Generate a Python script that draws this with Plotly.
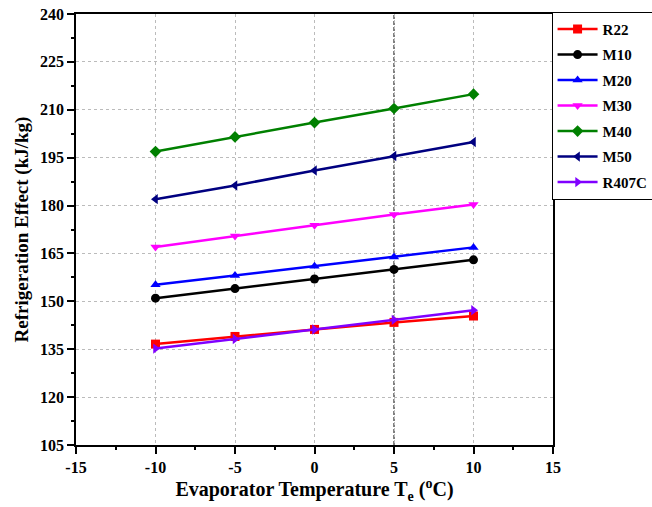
import plotly.graph_objects as go

temps = [-10, -5, 0, 5, 10]
names = ["R22", "M10", "M20", "M30", "M40", "M50", "R407C"]
r22 = [136.6, 139.0, 141.2, 143.4, 145.4]
m10 = [151.0, 154.0, 157.0, 160.0, 163.0]
m20 = [155.2, 158.1, 161.0, 163.9, 166.9]
m30 = [167.0, 170.5, 173.8, 177.2, 180.3]
m40 = [196.9, 201.5, 206.0, 210.4, 214.9]
m50 = [182.0, 186.3, 191.0, 195.5, 199.9]
r407c = [135.2, 138.2, 141.2, 144.2, 147.2]
series = [r22, m10, m20, m30, m40, m50, r407c]
colors = ["#FF0000", "#000000", "#0000FF", "#FF00FF", "#008000", "#000080", "#8000FF"]
symbols = ["square", "circle", "triangle-up", "triangle-down", "diamond", "triangle-left", "triangle-right"]

x_ticks = [-15, -10, -5, 0, 5, 10, 15]
x_ticktext = ["-15", "-10", "-5", "0", "5", "10", "15"]
y_ticks = [105, 120, 135, 150, 165, 180, 195, 210, 225, 240]

fig = go.Figure()
for i, (n, s) in enumerate(zip(names, series)):
    fig.add_trace(go.Scatter(
        x=temps, y=s, name=n, mode="lines+markers",
        legendgroup=n,
        line=dict(color=colors[i], width=2.5),
        marker=dict(symbol=symbols[i], size=9, color=colors[i]),
    ))

font_family = "Liberation Serif"
axis_common = dict(
    showline=True, linecolor="black", linewidth=1.5, mirror=True,
    ticks="outside", ticklen=7, tickwidth=1.5, tickcolor="black",
    showgrid=True, gridcolor="#BBBBBB", griddash="dot", gridwidth=1,
    zeroline=False,
    tickfont=dict(family=font_family, size=16, color="black", weight="bold"),
)

fig.update_xaxes(
    range=[-15, 15], tickvals=x_ticks, ticktext=x_ticktext,
    minor=dict(ticks="outside", ticklen=3, dtick=2.5, tick0=-15, tickcolor="black", showgrid=False),
    title=dict(text="Evaporator Temperature T<sub>e</sub> (<sup>o</sup>C)",
               font=dict(family=font_family, size=20, color="black", weight="bold"), standoff=3),
    **axis_common,
)
fig.update_yaxes(
    range=[105, 240], tickvals=y_ticks,
    minor=dict(ticks="outside", ticklen=3, dtick=7.5, tick0=105, tickcolor="black", showgrid=False),
    title=dict(text="Refrigeration Effect (kJ/kg)",
               font=dict(family=font_family, size=19, color="black", weight="bold"), standoff=6),
    **axis_common,
)

fig.add_shape(type="line", xref="x", yref="paper", x0=5, x1=5, y0=0, y1=1,
              line=dict(color="black", width=1, dash="4px,2px"), layer="below")

fig.update_layout(
    width=652, height=507,
    margin=dict(l=76, r=99, t=14, b=62, autoexpand=False),
    plot_bgcolor="white", paper_bgcolor="white",
    legend=dict(
        x=0.997, xanchor="left", y=1.005, yanchor="top",
        bordercolor="black", borderwidth=1, bgcolor="white",
        font=dict(family=font_family, size=15, color="black", weight="bold"),
        tracegroupgap=3, itemwidth=40,
    ),
)

fig.write_html("out.html")
